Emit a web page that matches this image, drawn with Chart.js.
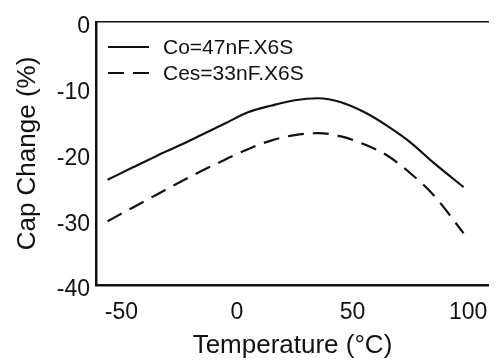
<!DOCTYPE html>
<html>
<head>
<meta charset="utf-8">
<script src="https://cdn.jsdelivr.net/npm/chart.js@4/dist/chart.umd.min.js"></script>
<style>
  html, body { margin: 0; padding: 0; background: #fff; overflow: hidden; }
  #wrap { width: 502px; height: 364px; }
</style>
</head>
<body>
<div id="wrap"><canvas id="capChart" width="502" height="364"></canvas></div>
<script>
const seriesNames = ["Co=47nF.X6S", "Ces=33nF.X6S"];

const tempCo = [-56, -45, -35, -25, -15, -5, 5, 15, 25, 35, 45, 55, 65, 75, 85, 98];
const capCo = [-24.0, -22.1, -20.4, -18.8, -17.1, -15.4, -13.7, -12.7, -11.9, -11.6, -12.2, -13.7, -15.8, -18.3, -21.4, -25.1];

const tempCes = [-56, -45, -35, -25, -15, -5, 5, 15, 25, 35, 45, 55, 65, 75, 85, 98];
const capCes = [-30.3, -28.2, -26.3, -24.4, -22.6, -20.9, -19.3, -18.0, -17.2, -16.9, -17.4, -18.6, -20.3, -23.0, -26.3, -32.1];

const xTicks = [-50, 0, 50, 100];
const yTicks = [0, -10, -20, -30, -40];

const ink = '#111111';
const fontFam = '"Liberation Sans", Arial, sans-serif';

const toPoints = (xs, ys) => xs.map((x, i) => ({ x: x, y: ys[i] }));

// legend drawn inside the plot, top-left
const innerLegend = {
    id: 'innerLegend',
    afterDatasetsDraw(chart) {
        const ctx = chart.ctx;
        const area = chart.chartArea;
        ctx.save();
        chart.data.datasets.forEach((ds, i) => {
            const y = area.top + 25 + i * 26;
            const x0 = area.left + 12;
            ctx.beginPath();
            ctx.setLineDash(ds.borderDash || []);
            ctx.lineWidth = ds.borderWidth;
            ctx.strokeStyle = ds.borderColor;
            ctx.moveTo(x0, y);
            ctx.lineTo(x0 + 41, y);
            ctx.stroke();
            ctx.setLineDash([]);
            ctx.fillStyle = ink;
            ctx.font = '21px ' + fontFam;
            ctx.textBaseline = 'middle';
            ctx.fillText(ds.label, x0 + 55, y + 1);
        });
        ctx.restore();
    }
};

const ctx = document.getElementById('capChart').getContext('2d');
new Chart(ctx, {
    type: 'line',
    data: {
        datasets: [{
            label: seriesNames[0],
            data: toPoints(tempCo, capCo),
            borderColor: ink,
            borderWidth: 2.2,
            pointRadius: 0,
            fill: false,
            cubicInterpolationMode: 'monotone'
        }, {
            label: seriesNames[1],
            data: toPoints(tempCes, capCes),
            borderColor: ink,
            borderWidth: 2.2,
            borderDash: [16, 9],
            pointRadius: 0,
            fill: false,
            cubicInterpolationMode: 'monotone'
        }]
    },
    options: {
        responsive: false,
        animation: false,
        layout: { padding: { top: 22, right: 0, left: 0, bottom: 0 } },
        plugins: {
            legend: { display: false },
            tooltip: { enabled: false }
        },
        scales: {
            x: {
                type: 'linear',
                position: 'bottom',
                min: -61,
                max: 109,
                afterBuildTicks: (scale) => { scale.ticks = xTicks.map(v => ({ value: v })); },
                afterFit: (scale) => { scale.height = 79; },
                grid: { display: false, drawTicks: false },
                border: { display: true, color: ink, width: 2.5 },
                ticks: {
                    color: ink,
                    padding: 14,
                    maxRotation: 0,
                    font: { family: fontFam, size: 23 },
                    callback: (v) => String(v)
                },
                title: {
                    display: true,
                    text: 'Temperature (°C)',
                    color: ink,
                    padding: { top: 0, bottom: 3 },
                    font: { family: fontFam, size: 26 }
                }
            },
            xTop: {
                type: 'linear',
                position: 'top',
                min: -61,
                max: 109,
                afterFit: (scale) => { scale.height = 0; },
                grid: { display: false, drawTicks: false },
                border: { display: true, color: ink, width: 1.5 },
                ticks: { display: false }
            },
            y: {
                min: -40,
                max: 0,
                afterBuildTicks: (scale) => { scale.ticks = yTicks.map(v => ({ value: v })); },
                afterFit: (scale) => { scale.width = 96; },
                grid: { display: false, drawTicks: false },
                border: { display: true, color: ink, width: 2.5 },
                ticks: {
                    color: ink,
                    padding: 6,
                    labelOffset: 5,
                    font: { family: fontFam, size: 23 },
                    callback: (v) => String(v)
                },
                title: {
                    display: true,
                    text: 'Cap Change (%)',
                    color: ink,
                    padding: { top: 12, bottom: 0 },
                    font: { family: fontFam, size: 26 }
                }
            }
        }
    },
    plugins: [innerLegend]
});
</script>
</body>
</html>
